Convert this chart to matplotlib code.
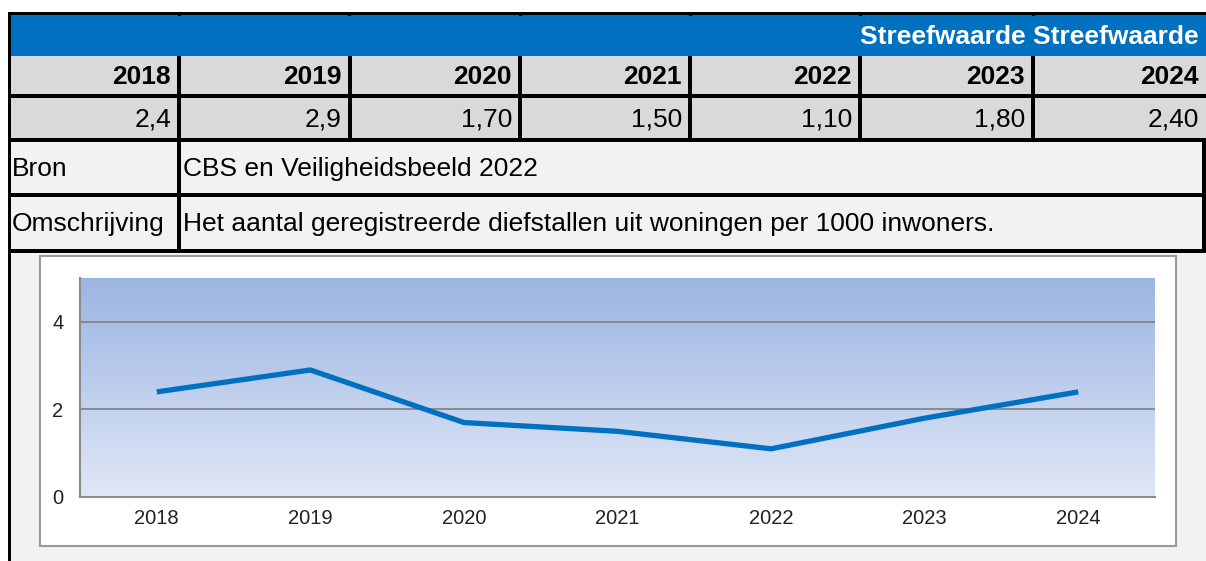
import numpy as np
import matplotlib
matplotlib.use("Agg")
import matplotlib.pyplot as plt
from matplotlib.patches import Rectangle
from matplotlib.colors import LinearSegmentedColormap

# ---- data ----
years = ['2018', '2019', '2020', '2021', '2022', '2023', '2024']
values = [2.4, 2.9, 1.70, 1.50, 1.10, 1.80, 2.40]
value_labels = ['2,4', '2,9', '1,70', '1,50', '1,10', '1,80', '2,40']
header_text = 'Streefwaarde Streefwaarde'
row_labels = ['Bron', 'Omschrijving']
row_texts = ['CBS en Veiligheidsbeeld 2022',
             'Het aantal geregistreerde diefstallen uit woningen per 1000 inwoners.']
y_ticks = [0, 2, 4]

W, H = 1206, 561
fig = plt.figure(figsize=(W / 100, H / 100), dpi=100)
fig.patch.set_facecolor('white')

tab = fig.add_axes([0, 0, 1, 1])
tab.set_xlim(0, W)
tab.set_ylim(H, 0)
tab.axis('off')

BLUE = '#0070C0'
GREY = '#D9D9D9'
LIGHT = '#F2F2F2'
TF = 'Liberation Sans'
FS = 19

# backgrounds
tab.add_patch(Rectangle((11, 15), W - 11, 41, color=BLUE, lw=0))
tab.add_patch(Rectangle((11, 56), W - 11, 85, color=GREY, lw=0))
tab.add_patch(Rectangle((11, 141), W - 11, H - 141, color=LIGHT, lw=0))

# borders
def hline(y, x0, x1, lw=4):
    tab.add_patch(Rectangle((x0, y - lw / 2), x1 - x0, lw, color='black', lw=0))

def vline(x, y0, y1, lw=4):
    tab.add_patch(Rectangle((x - lw / 2, y0), lw, y1 - y0, color='black', lw=0))

hline(13.5, 8, W, 3)
hline(96, 11, W)
hline(139.5, 11, W)
hline(195, 11, W)
hline(251, 11, W)
vline(9.5, 12, H, 3.5)
seps = [179, 349.5, 520, 690, 860, 1033]
for s in seps:
    vline(s, 56, 141)
    vline(s, 12, 16, 3)
vline(179, 141, 253)
vline(1203.5, 141, 253, 4)

# header text
tab.text(1199, 37, header_text, ha='right', va='center', color='white',
         fontsize=FS, fontweight='bold', family=TF)

rights = [s - 8 for s in seps] + [1199]
for r, yr, vl in zip(rights, years, value_labels):
    tab.text(r, 77, yr, ha='right', va='center', fontsize=FS, fontweight='bold', family=TF)
    tab.text(r, 119.5, vl, ha='right', va='center', fontsize=FS, family=TF)

for yc, lab, txt in zip([169, 224], row_labels, row_texts):
    tab.text(12, yc, lab, ha='left', va='center', fontsize=FS, family=TF)
    tab.text(183, yc, txt, ha='left', va='center', fontsize=FS, family=TF)

# chart frame
tab.add_patch(Rectangle((40, 256), 1136, 290, facecolor='white', edgecolor='#9A9A9A', lw=1.5))

# chart
px0, px1, py0, py1 = 80, 1155, 278, 497
ax = fig.add_axes([px0 / W, (H - py1) / H, (px1 - px0) / W, (py1 - py0) / H])
ax.set_xlim(-0.5, len(years) - 0.5)
ax.set_ylim(0, 5)
grad = np.linspace(0, 1, 256).reshape(-1, 1)
cmap = LinearSegmentedColormap.from_list('g', ['#E0E7F6', '#9BB5E3'])
ax.imshow(grad, extent=(-0.5, len(years) - 0.5, 0, 5), origin='lower',
          aspect='auto', cmap=cmap, zorder=0)
for t in y_ticks[1:]:
    ax.axhline(t, color='#858585', lw=1.3, zorder=1)
ax.plot(years, values, color='#0070C0', lw=3.8, solid_capstyle='butt', zorder=3)

ax.set_yticks(y_ticks)
ax.set_yticklabels([str(t) for t in y_ticks])
ax.tick_params(axis='both', length=0, labelsize=14.5, labelcolor='#222222')
ax.tick_params(axis='y', pad=12)
ax.tick_params(axis='x', pad=9)
for lab in ax.get_xticklabels() + ax.get_yticklabels():
    lab.set_family('Liberation Sans')
for sp in ['top', 'right']:
    ax.spines[sp].set_visible(False)
for sp in ['left', 'bottom']:
    ax.spines[sp].set_color('#8C8C8C')
    ax.spines[sp].set_linewidth(1.5)

fig.savefig('out.png', dpi=100)
